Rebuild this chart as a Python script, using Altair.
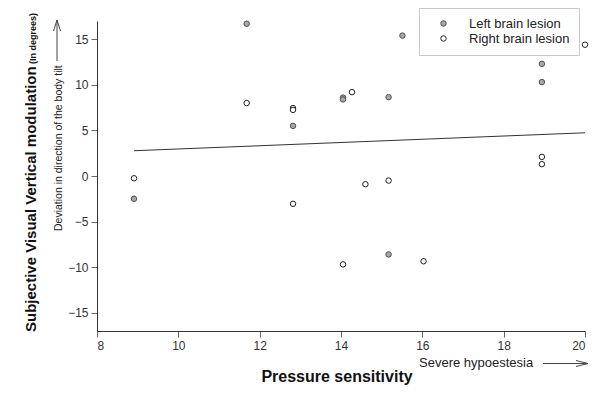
import altair as alt
import pandas as pd

# ---- data ----
groups = ["Left brain lesion", "Right brain lesion"]
left_x = [11.68, 12.82, 8.91, 15.51, 18.94, 18.94, 14.05, 14.05, 15.17, 15.17]
left_y = [16.7, 5.5, -2.5, 15.4, 12.3, 10.3, 8.6, 8.4, 8.65, -8.6]
right_x = [11.68, 12.82, 12.82, 8.91, 12.82, 20.0, 14.27, 18.94, 18.94, 14.6, 15.17, 14.05, 16.03]
right_y = [8.0, 7.45, 7.25, -0.25, -3.05, 14.4, 9.2, 2.1, 1.3, -0.9, -0.5, -9.7, -9.35]
fit_x = [8.91, 20.0]
fit_y = [2.77, 4.74]
x_ticks = [8, 10, 12, 14, 16, 18, 20]
y_ticks = [-15, -10, -5, 0, 5, 10, 15]

FONT = "Liberation Sans"

pts = pd.DataFrame({
    "x": left_x + right_x,
    "y": left_y + right_y,
    "group": [groups[0]] * len(left_x) + [groups[1]] * len(right_x),
})
fit = pd.DataFrame({"x": fit_x, "y": fit_y})

xscale = alt.Scale(domain=[8, 20], nice=False, zero=False)
yscale = alt.Scale(domain=[-17, 17], nice=False, zero=False)

axis_common = dict(grid=False, tickSize=6, tickColor="#666666", domainColor="#333333",
                   labelFont=FONT, labelFontSize=12, labelColor="#333333", title=None,
                   labelPadding=3)

legend = alt.Legend(orient="none", legendX=322, legendY=-13, title=None,
                    strokeColor="#c8c8c8", fillColor="white", padding=9,
                    labelFont=FONT, labelFontSize=13, labelColor="#222222",
                    symbolSize=30, symbolStrokeWidth=1, symbolType="circle",
                    symbolOffset=9, labelOffset=19, rowPadding=1)

points = alt.Chart(pts).mark_point(shape="circle", size=30, strokeWidth=1,
                                   opacity=1, fillOpacity=1).encode(
    x=alt.X("x:Q", scale=xscale, axis=alt.Axis(values=x_ticks, **axis_common)),
    y=alt.Y("y:Q", scale=yscale, axis=alt.Axis(values=y_ticks, **axis_common)),
    fill=alt.Fill("group:N", scale=alt.Scale(domain=groups, range=["#a8a8a8", "#ffffff"]),
                  legend=legend),
    stroke=alt.Stroke("group:N", scale=alt.Scale(domain=groups, range=["#505050", "#222222"]),
                      legend=legend),
)

line = alt.Chart(fit).mark_line(color="#333333", strokeWidth=1).encode(
    x=alt.X("x:Q", scale=xscale), y=alt.Y("y:Q", scale=yscale))

one = alt.Data(values=[{}])

def txt(text, x, y, size, bold=False, angle=0, align="left", color="#111111"):
    kw = dict(text=text, fontSize=size, font=FONT, align=align, baseline="alphabetic",
              color=color, fontWeight="bold" if bold else "normal")
    if angle:
        kw["angle"] = angle
    return alt.Chart(one).mark_text(**kw).encode(x=alt.value(x), y=alt.value(y))

def seg(x1, y1, x2, y2, color="#444444"):
    return alt.Chart(one).mark_rule(color=color, strokeWidth=1).encode(
        x=alt.value(x1), x2=alt.value(x2), y=alt.value(y1), y2=alt.value(y2))

annotations = [
    txt("Subjective Visual Vertical modulation", -61, 311, 15, bold=True, angle=270),
    txt("(In degrees)", -61, 43, 9, bold=True, angle=270),
    txt("Deviation in direction of the body tilt", -35, 210, 10.5, angle=270, color="#222222"),
    seg(-40, 40, -40, -1),
    seg(-40, -1, -43.5, 10),
    seg(-40, -1, -36.5, 10),
    txt("Pressure sensitivity", 240, 361, 16, bold=True, align="center"),
    txt("Severe hypoestesia", 322, 346, 13, color="#222222"),
    seg(446, 342.5, 491, 342.5),
    seg(491, 342.5, 479, 339.5),
    seg(491, 342.5, 479, 345.5),
]

chart = alt.layer(line, points, *annotations).properties(
    width=488, height=310,
    autosize=alt.AutoSizeParams(type="none"),
    padding={"left": 89, "top": 13, "right": 5, "bottom": 55},
    background="white",
).configure_view(stroke=None)

chart.save("out.html", embed_options={"renderer": "svg", "actions": False})
